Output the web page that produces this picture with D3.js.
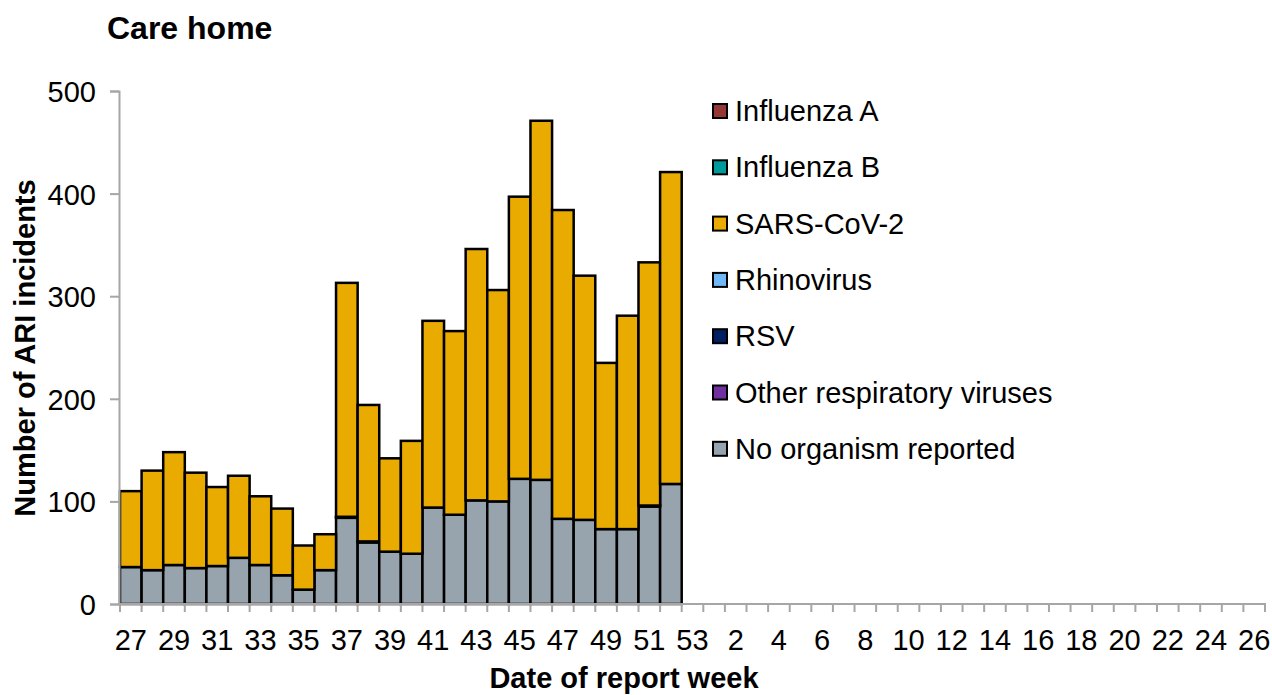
<!DOCTYPE html>
<html>
<head>
<meta charset="utf-8">
<script src="https://cdn.jsdelivr.net/npm/d3@7"></script>
<style>
  html, body { margin: 0; padding: 0; background: #fff; }
  svg { display: block; font-family: "Liberation Sans", Arial, sans-serif; }
</style>
</head>
<body>
<svg id="chart" width="1272" height="695"></svg>
<script>
// ---- Data ----
const weeks = [27,28,29,30,31,32,33,34,35,36,37,38,39,40,41,42,43,44,45,46,47,48,49,50,51,52,53,
               1,2,3,4,5,6,7,8,9,10,11,12,13,14,15,16,17,18,19,20,21,22,23,24,25,26];
const reportedWeeks = [27,28,29,30,31,32,33,34,35,36,37,38,39,40,41,42,43,44,45,46,47,48,49,50,51,52];
const tickLabels = [27,29,31,33,35,37,39,41,43,45,47,49,51,53,2,4,6,8,10,12,14,16,18,20,22,24,26];

const seriesNames = ["No organism reported","Other respiratory viruses","RSV","Rhinovirus","SARS-CoV-2","Influenza B","Influenza A"];
const seriesColors = ["#97A3AD","#7030A0","#002060","#6FB7F7","#E9AB00","#009999","#953735"];
const legendOrder = ["Influenza A","Influenza B","SARS-CoV-2","Rhinovirus","RSV","Other respiratory viruses","No organism reported"];

const noOrganism = [36,33,38,35,37,45,38,28,14,33,84,60,51,49,94,87,101,100,122,121,83,82,73,73,95,117];
const otherResp  = [0,0,0,0,0,0,0,0,0,0,0,0,0,0,0,0,0,0,0,0,0,0,0,0,0,0];
const rsv        = [0,0,0,0,0,0,0,0,0,0,1,1,0,0,0,0,0,0,0,0,0,0,0,0,1,0];
const rhinovirus = [0,0,0,0,0,0,0,0,0,0,0,0,0,0,0,0,0,0,0,0,0,0,0,0,0,0];
const sarsCov2   = [74,97,110,93,77,80,67,65,43,35,228,133,91,110,182,179,245,206,275,350,301,238,162,208,237,304];
const influenzaB = [0,0,0,0,0,0,0,0,0,0,0,0,0,0,0,0,0,0,0,0,0,0,0,0,0,0];
const influenzaA = [0,0,0,0,0,0,0,0,0,0,0,0,0,0,0,0,0,0,0,0,0,0,0,0,0,0];

const yTicks = [0,100,200,300,400,500];

// ---- Build table ----
const seriesArrays = [noOrganism, otherResp, rsv, rhinovirus, sarsCov2, influenzaB, influenzaA];
const rows = reportedWeeks.map((w, i) => {
  const r = { week: w };
  seriesNames.forEach((n, k) => r[n] = seriesArrays[k][i]);
  return r;
});
const stacked = d3.stack().keys(seriesNames)(rows);

// ---- Layout ----
const svg = d3.select("#chart");
const x = d3.scaleBand().domain(weeks).range([120, 1265]).padding(0);
const y = d3.scaleLinear().domain([0, 500]).range([604, 91]);
const axisColor = "#A6A6A6";
const fs = 29;

// Bars
svg.append("g").selectAll("g").data(stacked).join("g")
  .attr("fill", (d, i) => seriesColors[i])
  .selectAll("rect").data(d => d.filter(p => p[1] - p[0] > 0)).join("rect")
  .attr("x", d => x(d.data.week))
  .attr("width", x.bandwidth())
  .attr("y", d => y(d[1]))
  .attr("height", d => y(d[0]) - y(d[1]))
  .attr("stroke", "#000")
  .attr("stroke-width", 2.5);

// Y axis
const yAxis = svg.append("g").attr("transform", "translate(119,0)")
  .call(d3.axisLeft(y).tickValues(yTicks).tickSize(9).tickPadding(14).tickFormat(d3.format("d")));
yAxis.select(".domain").attr("stroke", axisColor).attr("stroke-width", 2);
yAxis.selectAll(".tick line").attr("stroke", axisColor).attr("stroke-width", 2);
yAxis.selectAll("text").attr("font-size", fs).attr("fill", "#000").attr("dy", "0.36em")
  .attr("font-family", "Liberation Sans, Arial, sans-serif");

// X axis: ticks at band boundaries
const xAxisG = svg.append("g").attr("transform", "translate(0,604)");
xAxisG.append("line").attr("x1", 119).attr("x2", 1266).attr("y1", 0).attr("y2", 0)
  .attr("stroke", axisColor).attr("stroke-width", 2);
const boundaries = weeks.map(w => x(w)).concat([x(weeks[weeks.length - 1]) + x.bandwidth()]);
xAxisG.selectAll("line.tk").data(boundaries).join("line").attr("class", "tk")
  .attr("x1", d => d).attr("x2", d => d).attr("y1", 0).attr("y2", 8)
  .attr("stroke", axisColor).attr("stroke-width", 2);
xAxisG.selectAll("text").data(tickLabels).join("text")
  .attr("x", d => x(d) + x.bandwidth() / 2)
  .attr("y", 46)
  .attr("text-anchor", "middle")
  .attr("font-size", fs)
  .text(d => d);

// Titles
svg.append("text").attr("x", 107).attr("y", 39).attr("font-size", 32).attr("font-weight", "bold").text("Care home");
svg.append("text").attr("x", 624).attr("y", 688).attr("text-anchor", "middle")
  .attr("font-size", fs).attr("font-weight", "bold").text("Date of report week");
svg.append("text").attr("transform", "translate(35,348) rotate(-90)").attr("text-anchor", "middle")
  .attr("font-size", fs).attr("font-weight", "bold").text("Number of ARI incidents");

// Legend
const legend = svg.append("g").selectAll("g").data(legendOrder).join("g")
  .attr("transform", (d, i) => `translate(713, ${111 + i * 56.3})`);
legend.append("rect").attr("x", 0).attr("y", -7).attr("width", 14).attr("height", 14)
  .attr("fill", d => seriesColors[seriesNames.indexOf(d)])
  .attr("stroke", "#000").attr("stroke-width", 2);
legend.append("text").attr("x", 22).attr("y", 10).attr("font-size", fs).text(d => d);
</script>
</body>
</html>
